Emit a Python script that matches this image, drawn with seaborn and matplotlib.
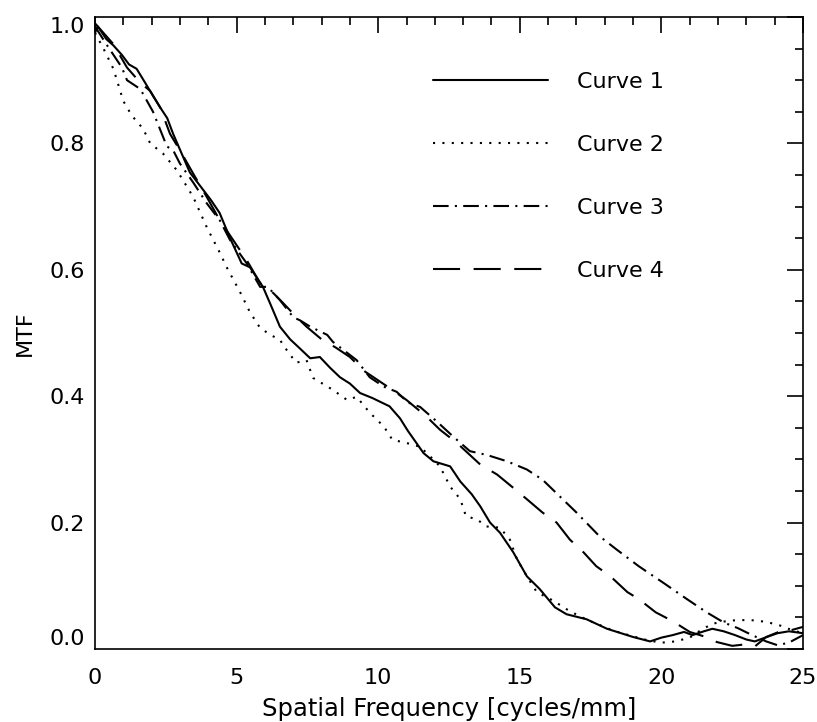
import pandas as pd
import seaborn as sns
import matplotlib.pyplot as plt
from matplotlib.ticker import MultipleLocator

# curve values
x1 = [0, 0.1, 0.4, 0.65, 0.95, 1.2, 1.47, 1.77, 2.05, 2.3, 2.55, 2.76, 3.05, 3.35, 3.76, 4.1, 4.4,
      4.77, 5.18, 5.47, 5.93, 6.2, 6.53, 6.89, 7.2, 7.6, 7.94, 8.3, 8.65, 9.0, 9.36, 9.8, 10.4,
      10.77, 11.05, 11.6, 11.95, 12.54, 12.9, 13.3, 13.6, 13.95, 14.3, 14.77, 15.25, 15.7, 16.24,
      16.65, 17.36, 18.08, 19.0, 19.6, 20.0, 20.4, 20.8, 21.1, 21.5, 21.8, 22.2, 22.6, 23.0, 23.3,
      23.6, 24.1, 24.5, 25.0]
y1 = [0.975, 0.985, 0.965, 0.955, 0.94, 0.925, 0.918, 0.896, 0.875, 0.857, 0.84, 0.815, 0.785,
      0.754, 0.73, 0.71, 0.69, 0.65, 0.61, 0.604, 0.573, 0.545, 0.51, 0.49, 0.477, 0.46, 0.462,
      0.445, 0.43, 0.42, 0.405, 0.397, 0.384, 0.365, 0.345, 0.31, 0.297, 0.289, 0.265, 0.245,
      0.226, 0.20, 0.184, 0.153, 0.115, 0.095, 0.066, 0.055, 0.047, 0.032, 0.019, 0.012, 0.018,
      0.022, 0.027, 0.022, 0.028, 0.032, 0.028, 0.022, 0.015, 0.012, 0.017, 0.025, 0.028, 0.025]

x2 = [0, 0.3, 0.65, 1.0, 1.3, 1.7, 1.95, 2.4, 2.9, 3.47, 3.95, 4.42, 4.65, 5.12, 5.47, 5.83, 6.2,
      6.53, 6.77, 7.1, 7.47, 7.7, 8.4, 8.9, 9.24, 9.7, 10.2, 10.5, 11.0, 11.48, 11.83, 12.18,
      12.54, 12.9, 13.1, 13.5, 13.8, 14.3, 14.65, 14.9, 15.25, 15.6, 16.2, 16.65, 17.1, 17.6,
      18.3, 19.0, 19.5, 20.0, 20.5, 21.0, 21.4, 21.8, 22.4, 23.1, 23.7, 24.2, 24.6, 25.0]
y2 = [0.975, 0.95, 0.918, 0.867, 0.844, 0.823, 0.80, 0.784, 0.757, 0.715, 0.667, 0.626, 0.604,
      0.565, 0.533, 0.508, 0.497, 0.489, 0.473, 0.453, 0.457, 0.429, 0.41, 0.394, 0.399, 0.374,
      0.352, 0.331, 0.326, 0.32, 0.305, 0.289, 0.257, 0.237, 0.21, 0.205, 0.194, 0.192, 0.173,
      0.142, 0.115, 0.09, 0.076, 0.063, 0.052, 0.042, 0.029, 0.02, 0.014, 0.01, 0.012, 0.018,
      0.03, 0.04, 0.045, 0.046, 0.043, 0.037, 0.03, 0.025]

x3 = [0, 0.4, 0.95, 1.13, 1.6, 2.05, 2.54, 2.75, 3.0, 3.47, 3.95, 4.41, 4.77, 5.36, 5.83, 6.1,
      6.53, 7.0, 7.24, 7.6, 8.2, 8.4, 9.24, 9.7, 10.2, 10.65, 11.05, 11.48, 12.07, 12.65, 13.24,
      13.84, 14.55, 15.25, 15.8, 16.4, 17.0, 17.8, 18.4, 19.2, 20.06, 20.9, 21.6, 22.2, 22.7,
      23.2, 23.7, 24.1, 24.5, 25.0]
y3 = [0.985, 0.957, 0.92, 0.9, 0.886, 0.85, 0.795, 0.79, 0.768, 0.738, 0.705, 0.678, 0.647, 0.61,
      0.573, 0.573, 0.552, 0.525, 0.52, 0.51, 0.497, 0.486, 0.457, 0.43, 0.415, 0.407, 0.39,
      0.383, 0.36, 0.336, 0.313, 0.307, 0.297, 0.284, 0.268, 0.242, 0.216, 0.179, 0.158, 0.131,
      0.105, 0.079, 0.058, 0.042, 0.033, 0.022, 0.012, 0.006, 0.01, 0.022]

x4 = [0, 0.65, 1.13, 1.6, 1.95, 2.3, 2.65, 3.0, 3.47, 3.95, 4.41, 4.88, 5.36, 5.83, 6.3, 6.65,
      7.12, 7.47, 8.0, 8.5, 9.0, 9.5, 10.0, 10.5, 11.0, 11.7, 12.18, 12.78, 13.6, 14.2, 14.77,
      15.25, 15.8, 16.3, 16.77, 17.25, 17.7, 18.2, 18.8, 19.2, 19.8, 20.4, 21.0, 21.5, 21.96,
      22.5, 22.9, 23.3, 23.7, 24.2, 24.6, 25.0]
y4 = [0.99, 0.957, 0.92, 0.896, 0.883, 0.857, 0.815, 0.789, 0.752, 0.715, 0.678, 0.647, 0.615,
      0.579, 0.563, 0.547, 0.525, 0.51, 0.49, 0.477, 0.462, 0.44, 0.425, 0.41, 0.394, 0.368,
      0.347, 0.326, 0.292, 0.276, 0.255, 0.237, 0.216, 0.2, 0.173, 0.153, 0.131, 0.115, 0.09,
      0.079, 0.058, 0.044, 0.027, 0.02, 0.011, 0.005, 0.007, 0.004, 0.019, 0.028, 0.03, 0.035]

labels = ['Curve 1', 'Curve 2', 'Curve 3', 'Curve 4']
styles = ['-', (0, (1, 3.5)), (0, (7.5, 3, 1, 3)), (0, (13, 6.5))]
x_ticks = [0, 5, 10, 15, 20, 25]
y_ticks = [0.0, 0.2, 0.4, 0.6, 0.8, 1.0]

sns.set_style('white')
plt.rcParams['font.family'] = ['DejaVu Sans']
plt.rcParams['text.color'] = 'black'
plt.rcParams['axes.labelcolor'] = 'black'
plt.rcParams['xtick.color'] = 'black'
plt.rcParams['ytick.color'] = 'black'

fig = plt.figure(figsize=(8.17, 7.22), dpi=100)
ax = fig.add_axes([95 / 817, 1 - 649 / 722, 708 / 817, 632 / 722])

for xs, ys, lab, ls in zip([x1, x2, x3, x4], [y1, y2, y3, y4], labels, styles):
    sns.lineplot(x=xs, y=ys, ax=ax, color='black', lw=1.5, linestyle=ls, label=lab)

ax.set_xticks(x_ticks, [f'{v:g}' for v in x_ticks])
ax.set_yticks(y_ticks, [f'{v:.1f}' for v in y_ticks])
ax.xaxis.set_minor_locator(MultipleLocator(1))
ax.yaxis.set_minor_locator(MultipleLocator(0.05))
ax.set_xlim(0, 25)
ax.set_ylim(0, 1.0)

ax.tick_params(which='both', direction='in', top=True, right=True, width=1.2, labelsize=16)
ax.tick_params(which='major', length=11.5)
ax.tick_params(which='minor', length=5.8)
ax.tick_params(axis='x', pad=14)
ax.tick_params(axis='y', pad=7)
for s in ax.spines.values():
    s.set_linewidth(1.2)
    s.set_color('black')

ax.set_xlabel('Spatial Frequency [cycles/mm]', fontsize=17.5, labelpad=6)
ax.set_ylabel('MTF', fontsize=16, labelpad=11)

ax.legend(loc='upper left', bbox_to_anchor=(0.477, 0.913), frameon=False, fontsize=16,
          handlelength=5.2, handletextpad=1.3, labelspacing=1.93, borderpad=0, borderaxespad=0)

# end labels sit inside the axis range, like the original
yticks = ax.yaxis.get_major_ticks()
yticks[0].label1.set_verticalalignment('bottom')
yticks[-1].label1.set_verticalalignment('top')

plt.savefig('out.png', dpi=100)
